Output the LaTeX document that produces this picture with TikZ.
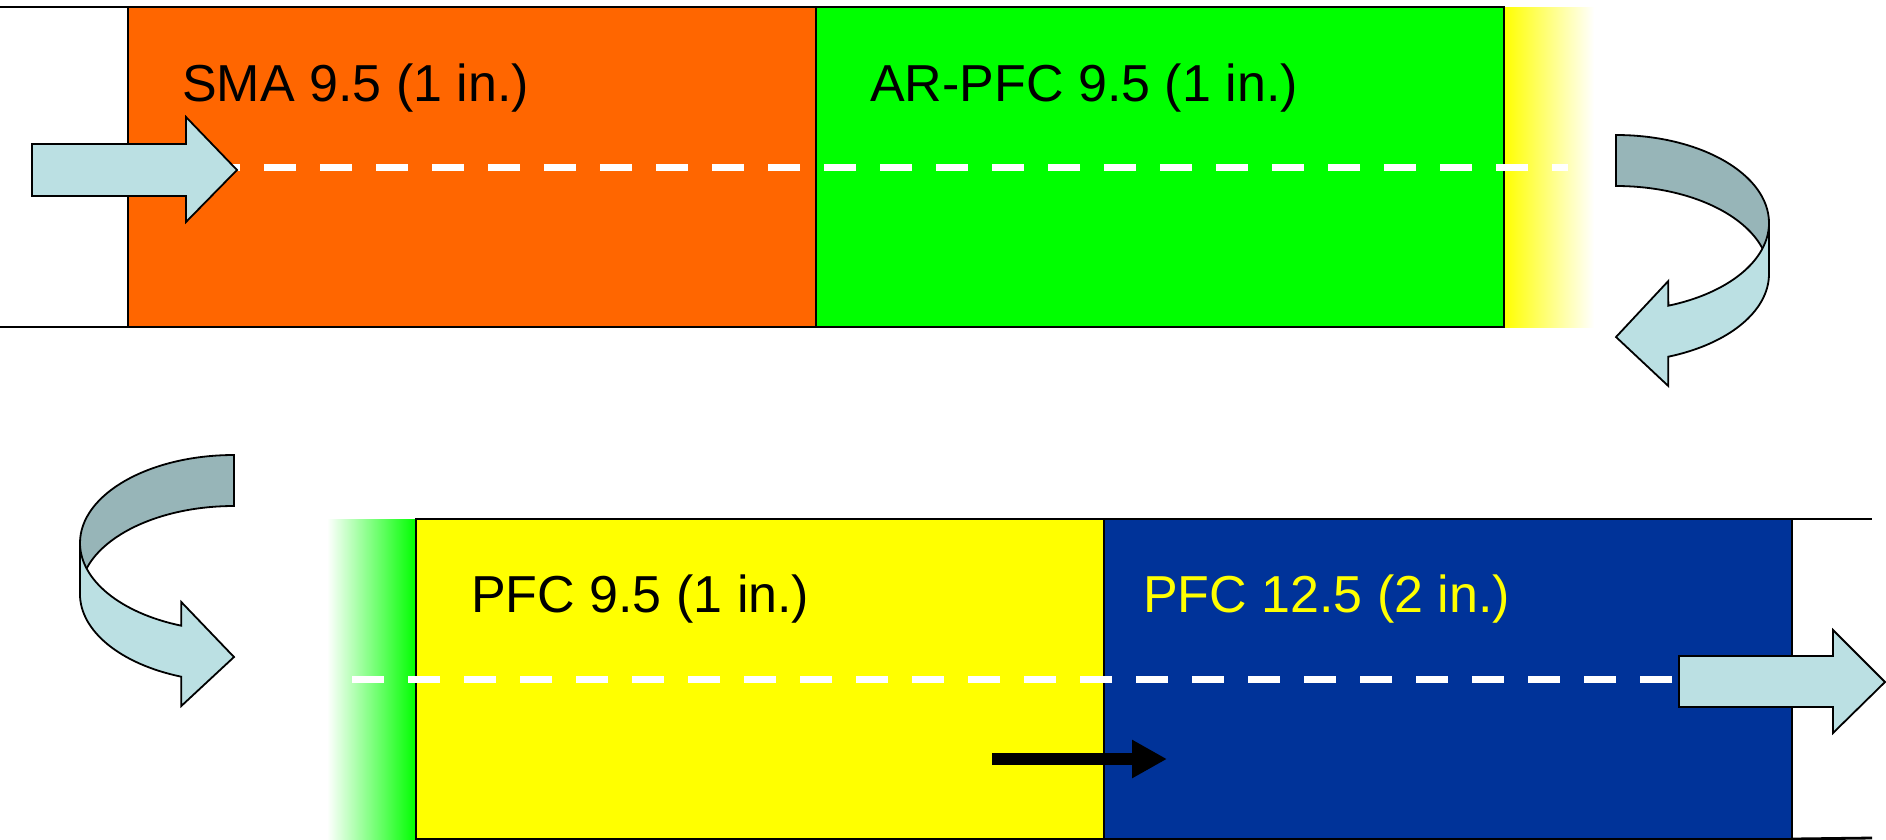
\documentclass[tikz,border=0pt]{standalone}
\usepackage{fontspec}
\setmainfont{Liberation Sans}
\usetikzlibrary{arrows.meta}

\definecolor{smaorange}{HTML}{FF6600}
\definecolor{arpfcgreen}{HTML}{00FF00}
\definecolor{pfcyellow}{HTML}{FFFF00}
\definecolor{pfcblue}{HTML}{003399}
\definecolor{arrowblue}{HTML}{BBE0E3}
\definecolor{ribbondark}{HTML}{97B5B8}

\tikzset{
  layer/.style={draw, line width=2.8pt, rectangle, minimum width=688pt, minimum height=320pt,
    inner sep=0pt, outer sep=0pt, anchor=north west},
  layerline/.style={line width=2.8pt},
  layertext/.style={anchor=base west, inner sep=0pt, font=\fontsize{52}{62}\selectfont},
  centerline/.style={draw=white, line width=7pt, dash pattern=on 32pt off 24pt},
  blockarrow/.style={draw, line width=1.8pt, fill=arrowblue, line join=miter},
  ribbonback/.style={blockarrow, fill=ribbondark},
  pusharrow/.style={line width=12pt, -{Triangle[length=35pt, width=36pt]}}
}

\begin{document}
\begin{tikzpicture}[x=1pt, y=-1pt]
  \useasboundingbox (0,0) rectangle (1886,839);

  \shade[left color=pfcyellow, right color=white] (1504,7) rectangle (1594,327);
  \shade[left color=white, right color=arpfcgreen] (327,519) rectangle (416,839);

  \node[layer, fill=smaorange] (sma) at (128,7) {};
  \node[layer, fill=arpfcgreen] (arpfc) at (816,7) {};
  \node[layer, fill=pfcyellow] (pfc95) at (416,519) {};
  \node[layer, fill=pfcblue] (pfc125) at (1104,519) {};

  \coordinate (topleft) at (0,7);
  \coordinate (botleft) at (0,327);
  \coordinate (topright) at (1872,519);
  \coordinate (botright) at (1872,838);
  \draw[layerline] (topleft) -- (sma.north west);
  \draw[layerline] (botleft) -- (sma.south west);
  \draw[layerline] (pfc125.north east) -- (topright);
  \draw[layerline] (pfc125.south east) -- (botright);

  \coordinate (topin) at (208,167);
  \coordinate (topout) at (1568,167);
  \coordinate (botin) at (352,679);
  \coordinate (botout) at (1672,679);
  \draw[centerline] (topin) -- (topout);
  \draw[centerline] (botin) -- (botout);

  \draw[blockarrow] (32,144) -- (186,144) -- (186,117) -- (237,170) -- (186,222)
    -- (186,196) -- (32,196) -- cycle;
  \draw[blockarrow] (1679,656) -- (1833,656) -- (1833,630) -- (1885,682) -- (1833,733)
    -- (1833,707) -- (1679,707) -- cycle;

  \draw[ribbonback] (1616,135) arc[start angle=-90, end angle=0, x radius=153, y radius=88]
    -- (1769,274) arc[start angle=0, end angle=-90, x radius=153, y radius=88] -- cycle;
  \draw[blockarrow] (1769,223) arc[start angle=0, end angle=70, x radius=153, y radius=88]
    -- (1668.3,281) -- (1616,337) -- (1668.3,386) -- (1668.3,356.7)
    arc[start angle=70, end angle=0, x radius=153, y radius=88] -- cycle;

  \draw[ribbonback] (234,455) arc[start angle=-90, end angle=-180, x radius=154, y radius=88]
    -- (80,594) arc[start angle=-180, end angle=-90, x radius=154, y radius=88] -- cycle;
  \draw[blockarrow] (80,543) arc[start angle=180, end angle=110, x radius=154, y radius=88]
    -- (181.3,602) -- (234,657) -- (181.3,706) -- (181.3,676.7)
    arc[start angle=110, end angle=180, x radius=154, y radius=88] -- cycle;

  \coordinate (pushstart) at (992,759);
  \coordinate (pushend) at (1167,759);
  \draw[pusharrow] (pushstart) -- (pushend);

  \node[layertext] (smatext) at (182,101) {SMA 9.5 (1 in.)};
  \node[layertext] (arpfctext) at (870,101) {AR-PFC 9.5 (1 in.)};
  \node[layertext] (pfc95text) at (471,612) {PFC 9.5 (1 in.)};
  \node[layertext, text=pfcyellow] (pfc125text) at (1143,612) {PFC 12.5 (2 in.)};
\end{tikzpicture}
\end{document}
